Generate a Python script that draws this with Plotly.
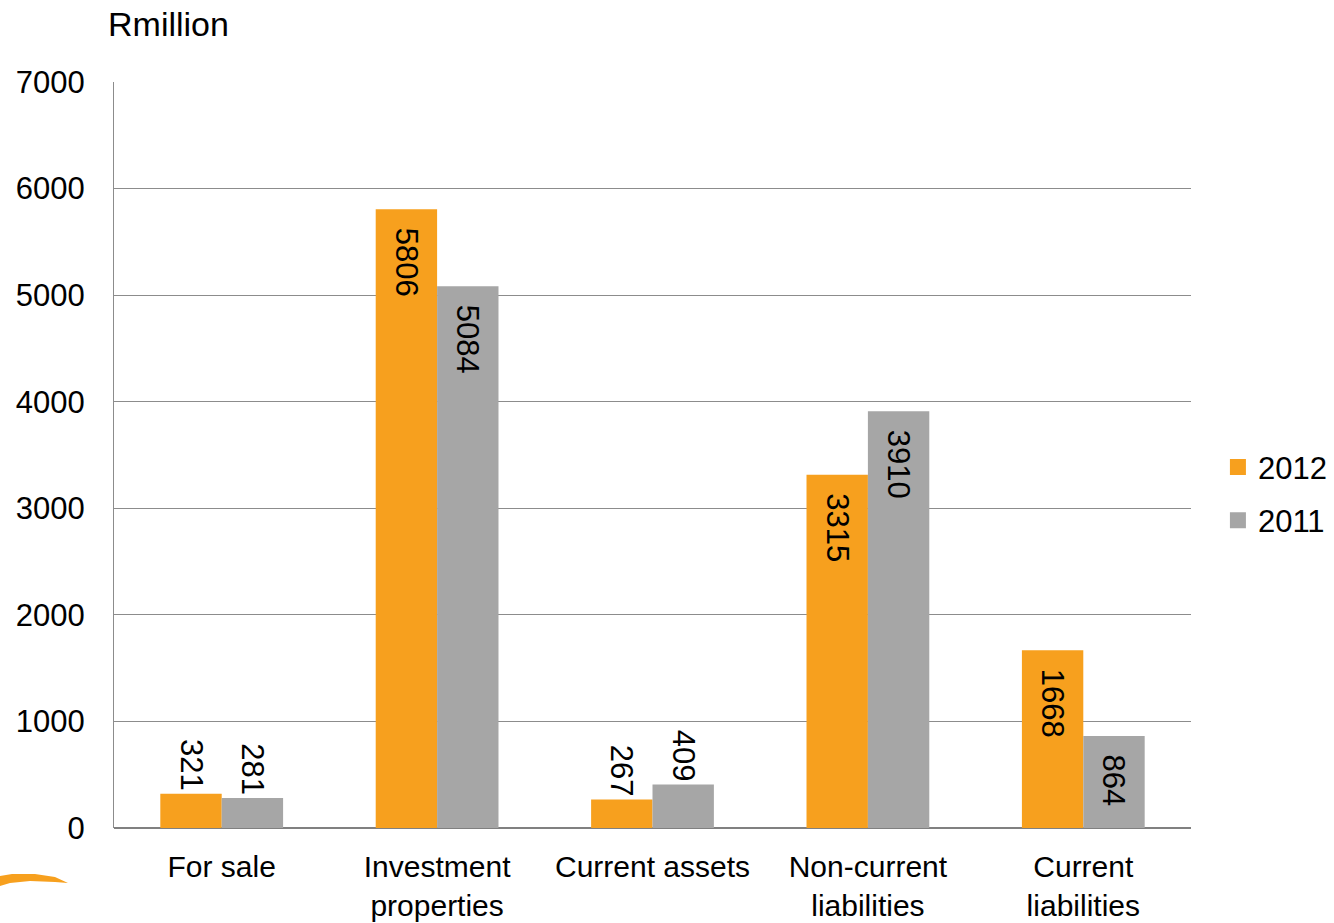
import plotly.graph_objects as go

categories = ["For sale", "Investment<br>properties", "Current assets",
              "Non-current<br>liabilities", "Current<br>liabilities"]
values_2012 = [321, 5806, 267, 3315, 1668]
values_2011 = [281, 5084, 409, 3910, 864]
y_ticks = [0, 1000, 2000, 3000, 4000, 5000, 6000, 7000]

ORANGE = "#F7A01E"
GREY = "#A6A6A6"
FONT = "Arial, Liberation Sans, sans-serif"
FS = 31
INSIDE_MIN = 800  # bars taller than this carry their label inside

# plot-area geometry in pixels (used to place the decorative swoosh)
W, H = 1334, 923
L, R, T, B = 114, 143, 82, 95
pw, ph = W - L - R, H - T - B


def px(x):
    return (x - L) / pw


def py(y):
    return (H - B - y) / ph


fig = go.Figure()
for name, vals, col in [("2012", values_2012, ORANGE), ("2011", values_2011, GREY)]:
    inside = [v > INSIDE_MIN for v in vals]
    fig.add_trace(go.Bar(
        name=name, x=categories, y=vals, marker=dict(color=col, line=dict(width=0)),
        # an en space keeps inside labels clear of the bar top
        text=[("\u2002" if ins else "") + str(v) for v, ins in zip(vals, inside)],
        textposition=["inside" if ins else "outside" for ins in inside],
        textangle=90, insidetextanchor="end", constraintext="none",
        textfont=dict(family=FONT, size=FS, color="black"),
        insidetextfont=dict(family=FONT, size=FS, color="black"),
        outsidetextfont=dict(family=FONT, size=FS, color="black"),
        cliponaxis=False, showlegend=False,
    ))
    # legend entry with a larger square key
    fig.add_trace(go.Scatter(
        name=name, x=[None], y=[None], mode="markers", legendgroup=name,
        marker=dict(symbol="square", size=17, color=col), showlegend=True,
    ))

# swoosh in the lower-left corner
sx = [0, 12, 35, 55, 68, 55, 30, 10, 0]
sy = [876, 874, 874, 877, 883, 882, 881, 883, 886]
path = "M " + " L ".join(f"{px(a):.5f},{py(b):.5f}" for a, b in zip(sx, sy)) + " Z"

fig.update_layout(
    width=W, height=H,
    margin=dict(l=L, r=R, t=T, b=B, autoexpand=False),
    paper_bgcolor="white", plot_bgcolor="white",
    barmode="group", bargap=0.43, bargroupgap=0,
    font=dict(family=FONT, size=FS, color="black"),
    legend=dict(x=1.025, y=0.448, xanchor="left", yanchor="middle",
                font=dict(family=FONT, size=FS, color="black"),
                bgcolor="rgba(0,0,0,0)", itemwidth=30,
                traceorder="grouped", tracegroupgap=10),
    xaxis=dict(showgrid=False, showline=False, ticks="",
               ticklabelstandoff=18,
               tickfont=dict(family=FONT, size=30, color="black")),
    yaxis=dict(range=[0, 7000], tickvals=y_ticks, ticktext=[str(t) for t in y_ticks],
               showgrid=True, gridcolor="#8C8C8C", gridwidth=1,
               showline=True, linecolor="#8C8C8C", linewidth=1,
               zeroline=True, zerolinecolor="#808080", zerolinewidth=2,
               ticks="", ticklabelstandoff=22,
               tickfont=dict(family=FONT, size=FS, color="black")),
    annotations=[dict(text="Rmillion", xref="paper", yref="paper",
                      x=px(106), y=py(24), xanchor="left", yanchor="middle",
                      showarrow=False, font=dict(family=FONT, size=34, color="black"))],
    shapes=[dict(type="path", path=path, xref="paper", yref="paper",
                 fillcolor=ORANGE, line=dict(width=0), layer="above")],
)

fig.write_html("out.html")
